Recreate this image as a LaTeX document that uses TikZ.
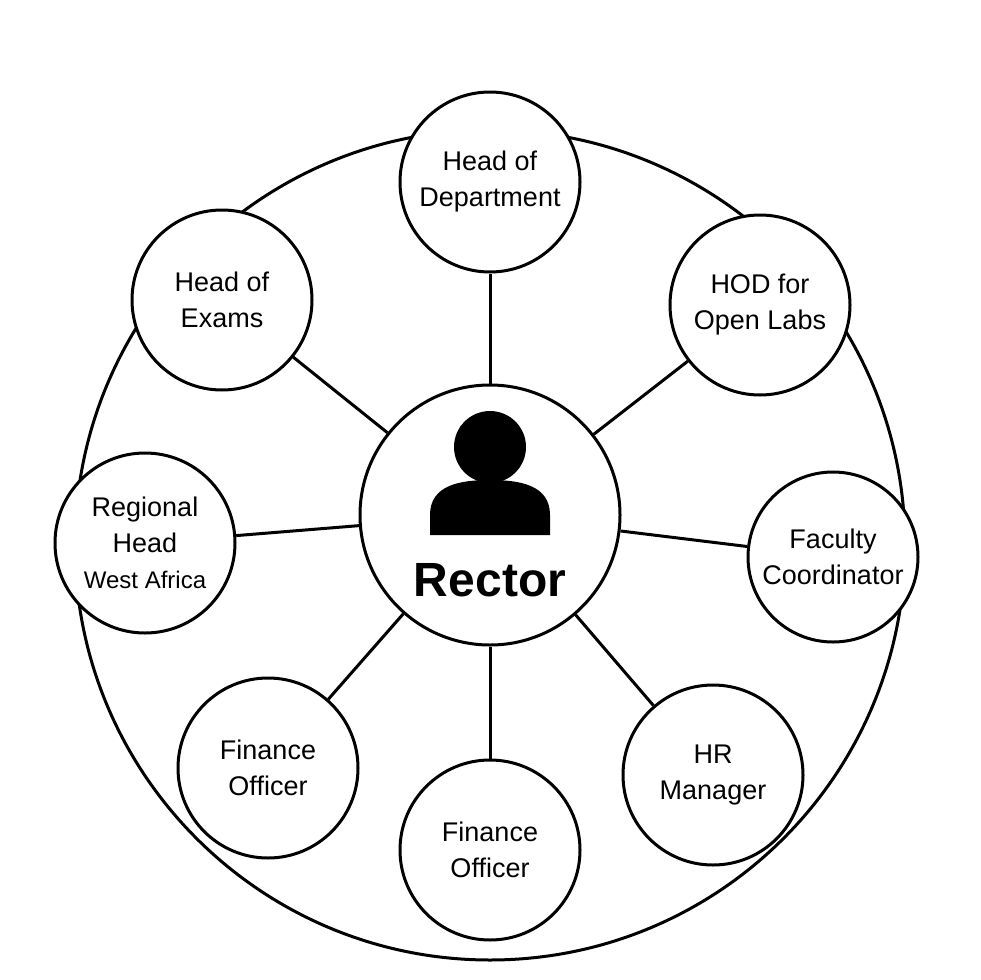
\documentclass[tikz,border=0pt]{standalone}
\usepackage{fontspec}
\setmainfont{Liberation Sans}
\begin{document}
\begin{tikzpicture}[x=1pt,y=-1pt,line width=3pt,
  role/.style={circle,draw,fill=white,minimum size=180pt,inner sep=0pt,align=center,
    font=\fontsize{27}{36}\selectfont}]
  \useasboundingbox (0,0) rectangle (980,980);
  \draw (490,545) circle (415);
  \node[circle,draw,fill=white,minimum size=260pt] (rector) at (490,515) {};
  \node[font=\fontsize{48}{50}\selectfont\bfseries] (rlabel) at (490,580) {Rector};
  % person icon
  \fill (490,447) circle (36);
  \fill (430,535) -- (430,515) .. controls (430,485) and (460,480) .. (490,480)
    .. controls (520,480) and (550,485) .. (550,515) -- (550,535) -- cycle;
  \node[role] (dept) at (490,182) {Head of\\Department};
  \node[role] (labs) at (760,305) {HOD for\\Open Labs};
  \node[role,minimum size=170pt] (fac) at (833,557) {Faculty\\Coordinator};
  \node[role] (hr) at (713,775) {HR\\Manager};
  \node[role] (fin) at (490,850) {Finance\\Officer};
  \node[role] (finl) at (268,768) {Finance\\Officer};
  \node[role] (reg) at (145,543) {Regional\\Head\\{\fontsize{24}{30}\selectfont West Africa}};
  \node[role] (exam) at (222,300) {Head of\\Exams};
  \foreach \n in {dept,labs,fac,hr,fin,finl,reg,exam}
    \draw (rector) -- (\n);
\end{tikzpicture}
\end{document}
